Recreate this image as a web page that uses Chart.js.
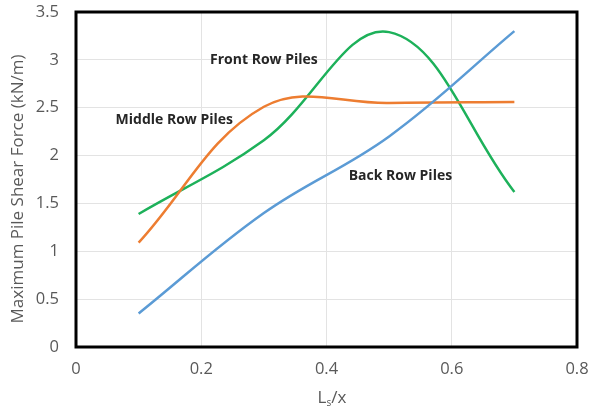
<!DOCTYPE html>
<html>
<head>
<meta charset="utf-8">
<script src="https://cdn.jsdelivr.net/npm/chart.js@4"></script>
<style>
  html, body { margin: 0; padding: 0; background: #fff; }
  #wrap { width: 589px; height: 410px; }
</style>
</head>
<body>
<div id="wrap"><canvas id="shearChart"></canvas></div>
<script>
// Ls/x ratios
const ratios = [0.1, 0.3, 0.5, 0.7];

// max pile shear force, kN/m
const frontRow = [1.39, 2.16, 3.29, 1.62];
const middleRow = [1.09, 2.51, 2.55, 2.56];
const backRow = [0.35, 1.40, 2.20, 3.30];

const xTicks = [0, 0.2, 0.4, 0.6, 0.8];
const yTicks = [0, 0.5, 1, 1.5, 2, 2.5, 3, 3.5];

// curve labels placed in data units
const seriesLabels = [
    { text: 'Front Row Piles', x: 0.30, y: 3.0 },
    { text: 'Middle Row Piles', x: 0.157, y: 2.37 },
    { text: 'Back Row Piles', x: 0.518, y: 1.79 }
];

const toPoints = vals => vals.map((v, i) => ({ x: ratios[i], y: v }));

const tickFont = { family: 'Open Sans', size: 16.5 };
const tickColor = '#595959';

const extras = {
    id: 'extras',
    afterDatasetsDraw(chart) {
        const { ctx, chartArea, scales } = chart;
        ctx.save();
        // curve labels
        ctx.font = 'bold 14px "Open Sans"';
        ctx.fillStyle = '#262626';
        ctx.textAlign = 'center';
        ctx.textBaseline = 'middle';
        seriesLabels.forEach(l => {
            ctx.fillText(l.text, scales.x.getPixelForValue(l.x), scales.y.getPixelForValue(l.y));
        });
        // plot frame
        ctx.strokeStyle = '#000';
        ctx.lineWidth = 3;
        ctx.strokeRect(chartArea.left, chartArea.top, chartArea.right - chartArea.left, chartArea.bottom - chartArea.top);

        ctx.fillStyle = tickColor;
        // y axis title
        ctx.save();
        ctx.translate(18, 189);
        ctx.rotate(-Math.PI / 2);
        ctx.font = '17px "Open Sans"';
        ctx.textAlign = 'center';
        ctx.fillText('Maximum Pile Shear Force (kN/m)', 0, 0);
        ctx.restore();

        // x axis title with subscript
        const cx = 332;
        const y = 398;
        ctx.textAlign = 'left';
        ctx.font = '17px "Open Sans"';
        const wL = ctx.measureText('L').width;
        const wX = ctx.measureText('/x').width;
        ctx.font = '10px "Open Sans"';
        const wS = ctx.measureText('s').width;
        const start = cx - (wL + wS + wX) / 2;
        ctx.font = '17px "Open Sans"';
        ctx.fillText('L', start, y);
        ctx.font = '10px "Open Sans"';
        ctx.fillText('s', start + wL, y + 5);
        ctx.font = '17px "Open Sans"';
        ctx.fillText('/x', start + wL + wS, y);
        ctx.restore();
    }
};

const makeSet = (label, data, color) => ({
    label: label,
    data: toPoints(data),
    borderColor: color,
    borderWidth: 2.5,
    pointRadius: 0,
    tension: 0.38,
    fill: false
});

new Chart(document.getElementById('shearChart'), {
    type: 'line',
    data: {
        datasets: [
            makeSet('Back Row Piles', backRow, '#5B9BD5'),
            makeSet('Middle Row Piles', middleRow, '#ED7D31'),
            makeSet('Front Row Piles', frontRow, '#1DB15A')
        ]
    },
    options: {
        responsive: true,
        maintainAspectRatio: false,
        animation: false,
        layout: { padding: { top: 12, right: 12, left: 0, bottom: 0 } },
        plugins: {
            legend: { display: false },
            tooltip: { enabled: false }
        },
        scales: {
            x: {
                type: 'linear',
                min: 0,
                max: 0.8,
                afterBuildTicks: s => { s.ticks = xTicks.map(v => ({ value: v })); },
                afterFit: s => {
                    s.height = 63;
                    s.paddingLeft = 0;
                    s.paddingRight = 0;
                },
                grid: { color: '#e3e3e3', drawTicks: false },
                border: { display: false },
                ticks: {
                    padding: 12,
                    font: tickFont,
                    color: tickColor,
                    maxRotation: 0,
                    callback: v => String(v)
                }
            },
            y: {
                min: 0,
                max: 3.5,
                afterBuildTicks: s => { s.ticks = yTicks.map(v => ({ value: v })); },
                afterFit: s => {
                    s.width = 76;
                    s.paddingTop = 0;
                    s.paddingBottom = 0;
                },
                grid: { color: '#e3e3e3', drawTicks: false },
                border: { display: false },
                ticks: {
                    padding: 17,
                    font: tickFont,
                    color: tickColor,
                    callback: v => String(v)
                }
            }
        }
    },
    plugins: [extras]
});
</script>
</body>
</html>
